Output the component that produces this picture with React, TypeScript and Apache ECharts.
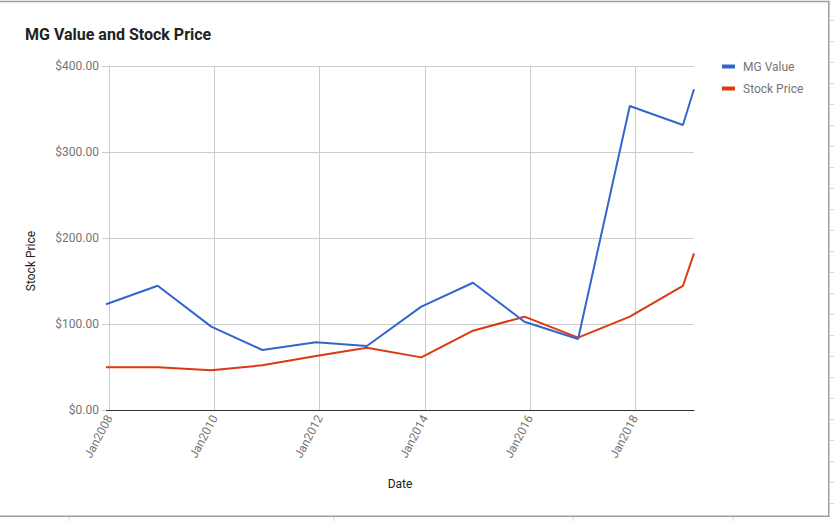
import React, { useEffect, useRef } from "react";
import * as echarts from "echarts";

const dates = [
  "2007-12-08", "2008-12-02", "2009-12-09", "2010-11-29", "2011-12-06",
  "2012-11-25", "2013-12-08", "2014-12-02", "2015-11-24", "2016-12-02",
  "2017-11-26", "2018-11-30", "2019-02-15",
];
const mgValue = [123, 144.5, 97, 69.8, 78.7, 74.4, 120.2, 148, 102.7, 82.6, 353.5, 331.4, 373];
const stockPrice = [49.6, 49.6, 46.3, 52, 62.8, 72.5, 61.2, 92.2, 108.5, 84.1, 108.5, 144.2, 182.2];
const xTickYears = [2008, 2010, 2012, 2014, 2016, 2018];
const yTicks = [0, 100, 200, 300, 400];

// date string -> fractional year
const toYear = (s: string) => {
  const [y, m, d] = s.split("-").map(Number);
  const start = Date.UTC(y, 0, 1);
  const end = Date.UTC(y + 1, 0, 1);
  return y + (Date.UTC(y, m - 1, d) - start) / (end - start);
};

export default function App() {
  const ref = useRef<HTMLDivElement>(null);
  useEffect(() => {
    document.body.style.margin = "0";
    const chart = echarts.init(ref.current!, null, { renderer: "svg" });
    const xs = dates.map(toYear);
    const font = "Roboto, Arial, sans-serif";

    const deco: any[] = [];
    const cols = [69, 334, 573, 733];
    cols.forEach((x) => {
      deco.push({ type: "line", shape: { x1: x, y1: 0, x2: x, y2: 1 }, style: { stroke: "#d9d9d9", lineWidth: 1 } });
      deco.push({ type: "line", shape: { x1: x, y1: 517, x2: x, y2: 521 }, style: { stroke: "#d9d9d9", lineWidth: 1 } });
    });
    for (let y = 20.5; y < 516; y += 21) {
      deco.push({ type: "line", shape: { x1: 830, y1: y, x2: 834, y2: y }, style: { stroke: "#d9d9d9", lineWidth: 1 } });
    }
    deco.push({ type: "line", shape: { x1: 0, y1: 1.5, x2: 829.5, y2: 1.5 }, style: { stroke: "#9e9e9e", lineWidth: 1.5 } });
    deco.push({ type: "line", shape: { x1: 828.8, y1: 1, x2: 828.8, y2: 516.5 }, style: { stroke: "#9e9e9e", lineWidth: 1.5 } });
    deco.push({ type: "line", shape: { x1: 0, y1: 516.3, x2: 829.5, y2: 516.3 }, style: { stroke: "#9e9e9e", lineWidth: 1.5 } });

    chart.setOption({
      animation: false,
      backgroundColor: "#ffffff",
      textStyle: { fontFamily: font },
      title: {
        text: "MG Value and Stock Price",
        left: 25,
        top: 26,
        padding: 0,
        textStyle: { fontFamily: font, fontSize: 16, fontWeight: "bold", color: "#222222" },
      },
      legend: {
        orient: "vertical",
        left: 722,
        top: 60.5,
        padding: 0,
        itemWidth: 13,
        itemHeight: 4,
        itemGap: 10,
        icon: "rect",
        textStyle: { fontFamily: font, fontSize: 12, color: "#757575", padding: [0, 0, 0, 3] },
        data: ["MG Value", "Stock Price"],
      },
      grid: { left: 106, right: 140, top: 66, bottom: 111, containLabel: false },
      xAxis: {
        type: "value",
        min: xs[0],
        max: xs[xs.length - 1],
        name: "Date",
        nameLocation: "middle",
        nameGap: 68,
        nameTextStyle: { fontFamily: font, fontSize: 12, color: "#222222" },
        axisLine: { show: true, onZero: false, lineStyle: { color: "#333333", width: 1 } },
        axisTick: { show: false, customValues: xTickYears },
        axisLabel: {
          customValues: xTickYears,
          rotate: 62,
          margin: 6,
          fontFamily: font,
          fontSize: 12,
          color: "#757575",
          formatter: (v: number) => "Jan" + Math.round(v),
        },
        splitLine: { show: true, lineStyle: { color: "#cccccc", width: 1 } },
      },
      yAxis: {
        type: "value",
        min: yTicks[0],
        max: yTicks[yTicks.length - 1],
        interval: 100,
        name: "Stock Price",
        nameLocation: "middle",
        nameRotate: 90,
        nameGap: 69,
        nameTextStyle: { fontFamily: font, fontSize: 12, color: "#222222", padding: [0, 46, 0, 0] },
        axisLine: { show: false },
        axisTick: { show: true, length: 4, lineStyle: { color: "#cccccc" } },
        axisLabel: {
          margin: 7,
          fontFamily: font,
          fontSize: 12,
          color: "#757575",
          formatter: (v: number) => "$" + v.toFixed(2),
        },
        splitLine: { show: true, lineStyle: { color: "#cccccc", width: 1 } },
      },
      series: [
        {
          name: "MG Value",
          type: "line",
          data: xs.map((t, i) => [t, mgValue[i]]),
          showSymbol: false,
          symbol: "none",
          lineStyle: { color: "#3366cc", width: 2 },
          itemStyle: { color: "#3366cc" },
          z: 3,
        },
        {
          name: "Stock Price",
          type: "line",
          data: xs.map((t, i) => [t, stockPrice[i]]),
          showSymbol: false,
          symbol: "none",
          lineStyle: { color: "#dc3912", width: 2 },
          itemStyle: { color: "#dc3912" },
          z: 2,
        },
      ],
      graphic: deco,
    });
    return () => chart.dispose();
  }, []);
  return <div ref={ref} style={{ position: "fixed", left: 0, top: 0, width: 834, height: 521 }} />;
}
